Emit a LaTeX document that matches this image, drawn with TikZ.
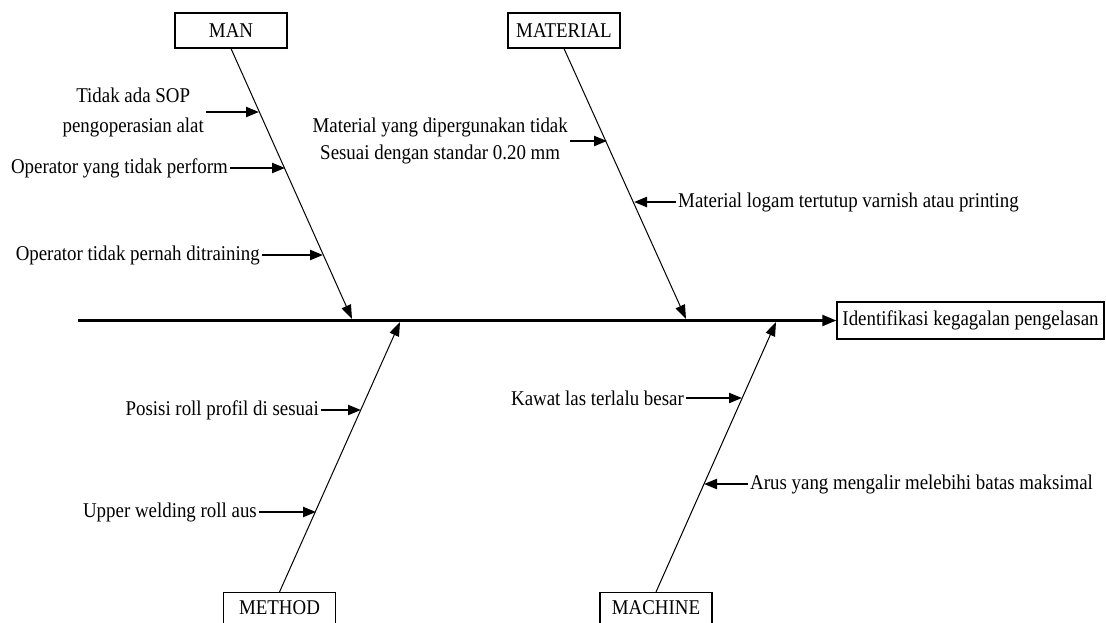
\documentclass[tikz,border=0pt]{standalone}
\usepackage{fontspec}
\setmainfont{Liberation Serif}[FakeStretch=0.9]
\usetikzlibrary{arrows.meta}
\begin{document}
\begin{tikzpicture}[x=1pt,y=-1pt,
  every node/.style={font=\fontsize{21}{30}\selectfont},
  catbox/.style={draw,line width=1.1pt,minimum width=112pt,minimum height=35pt,inner sep=0pt},
  effbox/.style={draw,line width=1.4pt,minimum width=267pt,minimum height=37pt,inner sep=0pt},
  bone/.style={line width=1pt,-{Triangle[length=14pt,width=10pt]}},
  spine/.style={line width=2.3pt,-{Triangle[length=14pt,width=11pt]}},
  cause/.style={line width=2.2pt,-{Triangle[length=13pt,width=10pt]}},
  lbl/.style={inner sep=2pt,align=center}]
\clip (0,0) rectangle (1106,622);
\fill[white] (0,0) rectangle (1106,622);
% category boxes
\node[catbox] (man) at (231,30.5) {MAN};
\node[catbox] (mat) at (564,30.5) {MATERIAL};
\node[catbox,anchor=north] (met) at (279.5,592) {METHOD\vphantom{g}};
\node[catbox,anchor=north] (mac) at (656,592) {MACHINE\vphantom{g}};
\node[effbox] (eff) at (970.5,320.5) {Identifikasi kegagalan pengelasan};
% spine
\coordinate (tail) at (78,320.5);
\draw[spine] (tail) -- (eff.west);
% bones
\coordinate (manT) at (352,319);
\coordinate (matT) at (686,319);
\coordinate (metT) at (400,322);
\coordinate (macT) at (776,322);
\draw[bone] (man.south) -- (manT);
\draw[bone] (mat.south) -- (matT);
\draw[bone] (met.north) -- (metT);
\draw[bone] (mac.north) -- (macT);
% MAN causes
\coordinate (t1) at (259,112);
\node[lbl,anchor=east] (c1) at (206,112) {Tidak ada SOP\\pengoperasian alat};
\draw[cause] (c1.east) -- (t1);
\coordinate (t2) at (285,168);
\node[lbl,anchor=east] (c2) at (230,168) {Operator yang tidak perform};
\draw[cause] (c2.east) -- (t2);
\coordinate (t3) at (323,255);
\node[lbl,anchor=east] (c3) at (262,255) {Operator tidak pernah ditraining};
\draw[cause] (c3.east) -- (t3);
% MATERIAL causes
\coordinate (t4) at (607,141);
\node[lbl,anchor=east,font=\fontsize{21}{27}\selectfont] (c4) at (570,141) {Material yang dipergunakan tidak\\Sesuai dengan standar 0.20 mm};
\draw[cause] (c4.east) -- (t4);
\coordinate (t5) at (634,202);
\node[lbl,anchor=west] (c5) at (676,202) {Material logam tertutup varnish atau printing};
\draw[cause] (c5.west) -- (t5);
% METHOD causes
\coordinate (t6) at (361,410);
\node[lbl,anchor=east] (c6) at (321,410) {Posisi roll profil di sesuai};
\draw[cause] (c6.east) -- (t6);
\coordinate (t7) at (316,512);
\node[lbl,anchor=east] (c7) at (259,512) {Upper welding roll aus};
\draw[cause] (c7.east) -- (t7);
% MACHINE causes
\coordinate (t8) at (742,398);
\node[lbl,anchor=east] (c8) at (686,398) {Kawat las terlalu besar};
\draw[cause] (c8.east) -- (t8);
\coordinate (t9) at (704,484);
\node[lbl,anchor=west] (c9) at (748,484) {Arus yang mengalir melebihi batas maksimal};
\draw[cause] (c9.west) -- (t9);
\end{tikzpicture}
\end{document}
